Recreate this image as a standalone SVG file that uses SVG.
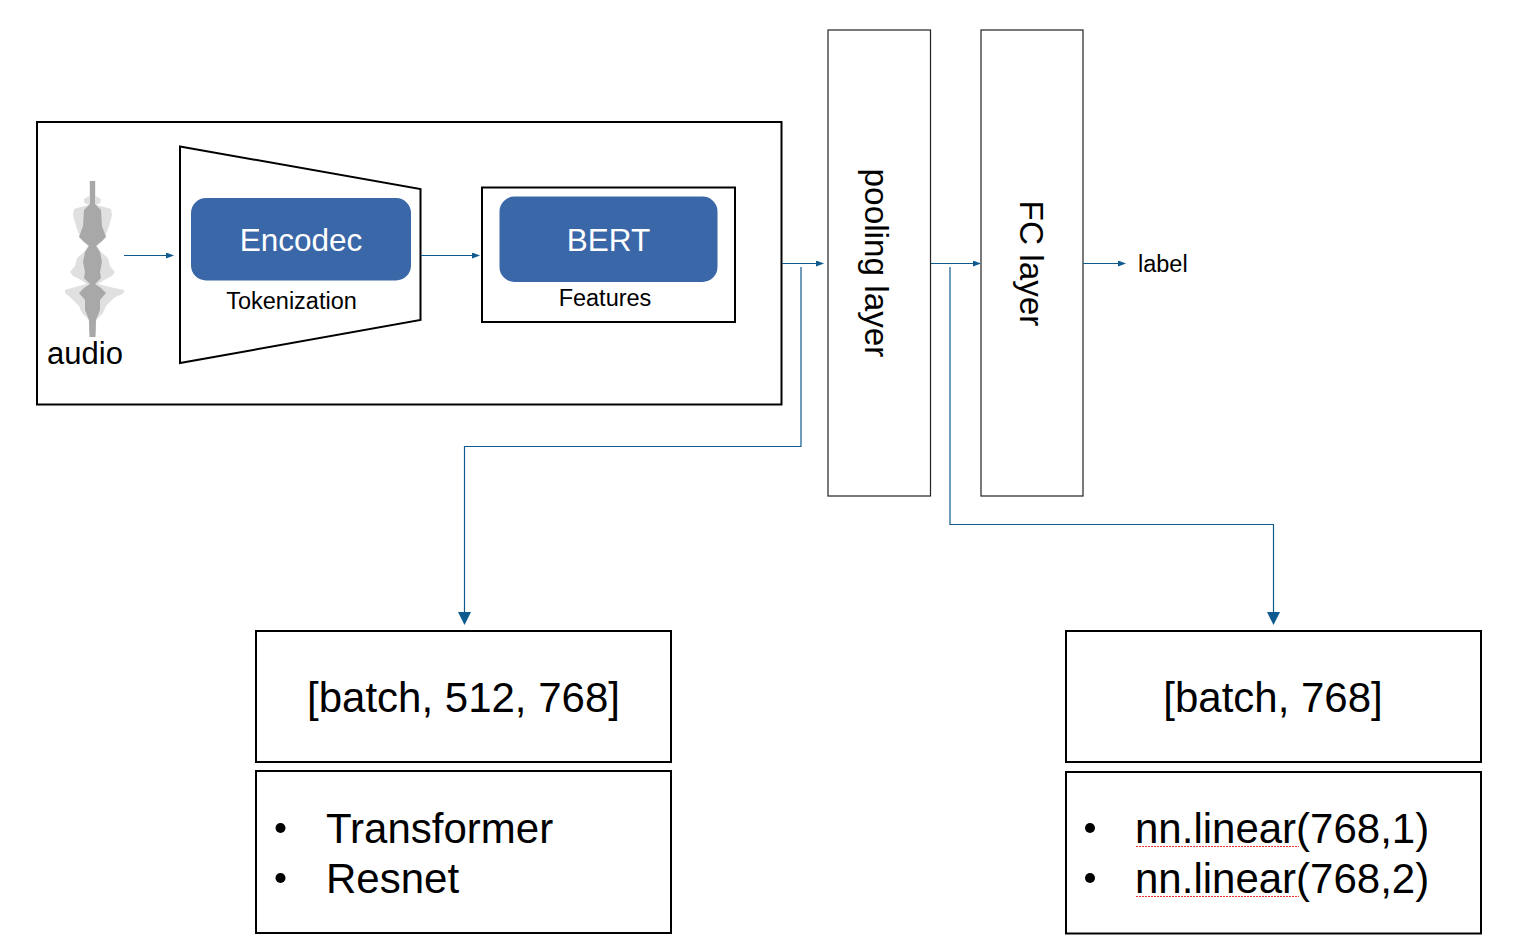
<svg xmlns="http://www.w3.org/2000/svg" width="1516" height="942" viewBox="0 0 1516 942">
<style>
text{font-family:"Liberation Sans",Arial,sans-serif;fill:#000}
.box{fill:#fff;stroke:#000;stroke-width:2}
.thin{fill:#fff;stroke:#222;stroke-width:1.2}
.blue{fill:#3a67a7}
.c{fill:none;stroke:#0f5a8e;stroke-width:1.2}
.w{font-size:31.500px;fill:#fff;text-anchor:middle}
.s{font-size:23.500px;text-anchor:middle}
.big{font-size:42px}
.sq{fill:none;stroke:#e33;stroke-width:1}
</style>
<defs>
<marker id="a" markerWidth="8" markerHeight="6" refX="7" refY="3" orient="auto" markerUnits="userSpaceOnUse"><path d="M0 0L8 3L0 6z" fill="#0f5a8e"/></marker>
<filter id="soft" x="-20%" y="-20%" width="140%" height="140%"><feGaussianBlur stdDeviation="0.700"/></filter>
</defs>
<rect width="1516" height="942" fill="#fff"/>
<g id="outer"><rect class="box" x="37" y="122" width="744.500" height="282.500"/></g>
<g id="audio">
<g filter="url(#soft)">
<path fill="#e0e0e0" d="M89.500 181H95.500V196L101 199L100.500 203L96 205L104 207L111 209L112 215L110.500 221L108 229L105 237L100 242L97 246L101 252L108 258L110 266L115 272L112 276L104 280L98 284L110 287L124 290V293L114 298L106 306L103 313L97 319L95.500 323L96 329L95 337H90L89 329L89.500 323L88 319L82 313L79 306L71 298L65 293V290L75 287L87 284L81 280L73 276L70 272L75 266L77 258L84 252L88 246L85 242L80 237L77 229L74.500 221L73 215L74 209L81 207L89 205L84.500 203L84 199L89.500 196Z"/>
<path fill="#a8a8a8" d="M90 181H95V204L101 210L102 226L106 237L101 242L96 246L100 252L102 262L100 272L101 278L95 284L101 288L106 293L100 300L100 310L96 320L95.500 337H89.500L89 320L85 310L85 300L79 293L84 288L90 284L84 278L85 272L83 262L85 252L89 246L84 242L79 237L83 226L84 210L90 204Z"/>
</g>
<text x="85" y="364" font-size="31" text-anchor="middle">audio</text>
</g>
<g id="encodec">
<path class="thin" style="stroke:#000;stroke-width:2" d="M180 146.500L420.500 189V320L180 363z"/>
<rect class="blue" x="191" y="198" width="220" height="82.500" rx="15"/>
<text class="w" x="301" y="250.500">Encodec</text>
<text class="s" x="291.500" y="308.500">Tokenization</text>
</g>
<g id="bert">
<rect class="box" x="482" y="187.500" width="253" height="134.500"/>
<rect class="blue" x="499.500" y="196.500" width="218" height="85.500" rx="15"/>
<text class="w" x="608.500" y="250.500">BERT</text>
<text class="s" x="605" y="305.500">Features</text>
</g>
<g id="pooling">
<rect class="thin" x="828" y="30" width="102.500" height="466"/>
<text font-size="33.300" text-anchor="middle" transform="translate(865 263) rotate(90)">pooling layer</text>
</g>
<g id="fc">
<rect class="thin" x="981" y="30" width="102" height="466"/>
<text font-size="33.300" text-anchor="middle" transform="translate(1020 263.500) rotate(90)">FC layer</text>
</g>
<g id="label"><text x="1138" y="271.500" font-size="23.500">label</text></g>
<g id="shape-left">
<rect class="box" x="256" y="631" width="415" height="131"/>
<text class="big" x="463.500" y="712" text-anchor="middle">[batch, 512, 768]</text>
</g>
<g id="list-left">
<rect class="box" x="256" y="771" width="415" height="162"/>
<circle cx="280.500" cy="828" r="5"/><circle cx="280.500" cy="878" r="5"/>
<text class="big" x="326" y="843">Transformer</text>
<text class="big" x="326" y="893">Resnet</text>
</g>
<g id="shape-right">
<rect class="box" x="1066" y="631" width="415" height="131"/>
<text class="big" x="1273" y="712" text-anchor="middle">[batch, 768]</text>
</g>
<g id="list-right">
<rect class="box" x="1066" y="772" width="415" height="161.500"/>
<circle cx="1090" cy="828" r="5"/><circle cx="1090" cy="878" r="5"/>
<text class="big" x="1135" y="843">nn.linear(768,1)</text>
<text class="big" x="1135" y="893">nn.linear(768,2)</text>
<path class="sq" stroke-dasharray="2 1" d="M1136 846.500H1299M1136 896.500H1299"/>
</g>
<g id="connectors">
<path class="c" marker-end="url(#a)" d="M124 255.500H173"/>
<path class="c" marker-end="url(#a)" d="M421 255.500H479"/>
<path class="c" marker-end="url(#a)" d="M782 263.500H823"/>
<path class="c" marker-end="url(#a)" d="M931 263.500H980"/>
<path class="c" marker-end="url(#a)" d="M1083 263.500H1125"/>
<path class="c" d="M801 267V446.500H464.500V612"/>
<path fill="#0f5a8e" d="M458 612H471L464.500 625z"/>
<path class="c" d="M950 267V524.500H1273.500V612"/>
<path fill="#0f5a8e" d="M1267 612H1280L1273.500 625z"/>
</g>
</svg>
